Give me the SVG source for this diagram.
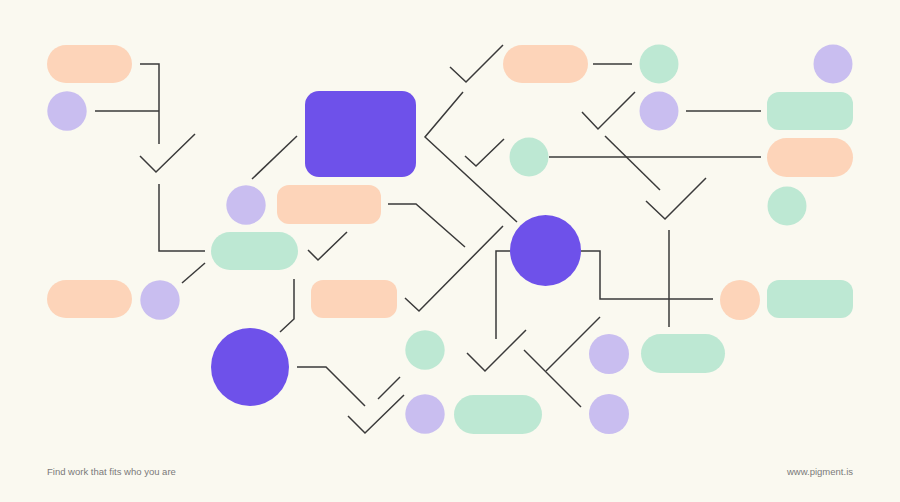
<svg xmlns="http://www.w3.org/2000/svg" width="900" height="502" viewBox="0 0 900 502">
<style>
.o{fill:#FDD4B9}
.l{fill:#C9BEF0}
.g{fill:#BDE8D3}
.p{fill:#6E51EA}
.c{fill:none;stroke:#3a3a3a;stroke-width:1.5;stroke-linejoin:miter;stroke-linecap:butt}
.t{font-family:"Liberation Sans",Arial,sans-serif;font-size:9.5px;fill:#7a7a7a}
</style>
<rect width="900" height="502" fill="#FAF9F0"/>
<g id="connectors" class="c">
<polyline points="140,64 159,64 159,144"/>
<line x1="95" y1="111" x2="159" y2="111"/>
<polyline points="140,156 156,172 195,134"/>
<polyline points="159,184 159,251 205,251"/>
<line x1="252" y1="179" x2="297" y2="136"/>
<line x1="182" y1="283" x2="205" y2="263"/>
<polyline points="294,279 294,319 280,332"/>
<polyline points="388,204 416,204 465,247"/>
<polyline points="308,250 318,260 347,232"/>
<polyline points="405,298 419,311 503,226"/>
<polyline points="450,67 466,82 503,45"/>
<polyline points="463,92 425,137 517,222"/>
<polyline points="465,156 476,166 504,139"/>
<polyline points="510,251 496,251 496,339"/>
<polyline points="581,251 600,251 600,299 713,299"/>
<line x1="593" y1="64" x2="632" y2="64"/>
<polyline points="582,112 598,129 635,92"/>
<line x1="686" y1="111" x2="761" y2="111"/>
<line x1="549" y1="157" x2="761" y2="157"/>
<line x1="605" y1="136" x2="660" y2="190"/>
<polyline points="646,201 665,219 706,178"/>
<line x1="669" y1="230" x2="669" y2="327"/>
<polyline points="467,353 485,371 526,330"/>
<line x1="524" y1="350" x2="581" y2="407"/>
<line x1="546" y1="371" x2="600" y2="317"/>
<polyline points="297,367 326,367 365,406"/>
<line x1="378" y1="399" x2="400" y2="377"/>
<polyline points="348,416 365,433 404,395"/>
</g>
<g id="n1"><rect class="o" x="47" y="45" width="85" height="38" rx="19"/></g>
<g id="n2"><circle class="l" cx="67" cy="111" r="19.7"/></g>
<g id="n3"><rect class="g" x="211" y="232" width="87" height="38" rx="19"/></g>
<g id="n4"><circle class="l" cx="246" cy="205" r="19.7"/></g>
<g id="n5"><rect class="o" x="47" y="280" width="85" height="38" rx="19"/></g>
<g id="n6"><circle class="l" cx="160" cy="300" r="19.7"/></g>
<g id="n7"><rect class="p" x="305" y="91" width="111" height="86" rx="14"/></g>
<g id="n8"><rect class="o" x="277" y="185" width="104" height="39" rx="12"/></g>
<g id="n9"><rect class="o" x="311" y="280" width="86" height="38" rx="12"/></g>
<g id="n10"><circle class="p" cx="250" cy="367" r="39"/></g>
<g id="n11"><circle class="g" cx="425" cy="350" r="19.7"/></g>
<g id="n12"><circle class="l" cx="425" cy="414" r="19.7"/></g>
<g id="n13"><rect class="g" x="454" y="395" width="88" height="39" rx="19.5"/></g>
<g id="n14"><circle class="g" cx="529" cy="157" r="19.5"/></g>
<g id="n15"><circle class="p" cx="545.5" cy="250.5" r="35.5"/></g>
<g id="n16"><rect class="o" x="503" y="45" width="85" height="38" rx="19"/></g>
<g id="n17"><circle class="g" cx="659" cy="64" r="19.5"/></g>
<g id="n18"><circle class="l" cx="833" cy="64" r="19.5"/></g>
<g id="n19"><circle class="l" cx="659" cy="111" r="19.5"/></g>
<g id="n20"><rect class="g" x="767" y="92" width="86" height="38" rx="12"/></g>
<g id="n21"><rect class="o" x="767" y="138" width="86" height="39" rx="19.5"/></g>
<g id="n22"><circle class="g" cx="787" cy="206" r="19.5"/></g>
<g id="n23"><circle class="o" cx="740" cy="300" r="20"/></g>
<g id="n24"><rect class="g" x="767" y="280" width="86" height="38" rx="12"/></g>
<g id="n25"><circle class="l" cx="609" cy="354" r="20"/></g>
<g id="n26"><rect class="g" x="641" y="334" width="84" height="39" rx="19.5"/></g>
<g id="n27"><circle class="l" cx="609" cy="414" r="20"/></g>
<text class="t" x="47" y="475">Find work that fits who you are</text>
<text class="t" x="853" y="475" text-anchor="end">www.pigment.is</text>
</svg>
